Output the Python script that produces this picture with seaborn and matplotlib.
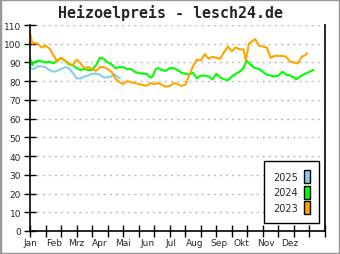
import matplotlib
matplotlib.use("Agg")
import matplotlib.pyplot as plt
import matplotlib.patches as mpatches
import seaborn as sns
import pandas as pd

# ---- data (day of year, price) ----
days_2023 = [0, 3, 5, 10, 15, 20, 25, 30, 35, 40, 45, 50, 55, 60, 65, 70, 75, 80, 85, 90,
             95, 100, 105, 110, 115, 120, 125, 130, 135, 140, 145, 150, 155, 160, 165, 170,
             175, 180, 185, 190, 195, 200, 205, 210, 215, 220, 225, 230, 235, 240, 245, 250,
             255, 260, 265, 270, 275, 278, 282, 285, 290, 295, 300, 305, 310, 315, 320, 325,
             330, 335, 340, 345, 350, 355, 357]
vals_2023 = [106, 100, 100.5, 100, 98, 99, 97.5, 94, 90.5, 92.5, 91, 89.5, 88.5, 91.5, 89.5,
             87, 87.5, 86.5, 85.5, 87.5, 87.5, 86.5, 85, 81.5, 79.5, 78.5, 80, 79.5, 79, 78.5,
             78, 77.5, 79, 78.5, 79, 78, 77, 77.5, 79, 78.5, 77.5, 78, 83, 88, 91.5, 91, 94.5,
             92, 93, 92.5, 92, 95.5, 98.5, 96, 98, 97, 97, 91, 100, 101, 102.5, 99, 98.5, 98,
             92.5, 93.5, 93.5, 93.5, 93, 90.5, 90, 89.5, 93, 94, 95]

days_2024 = [0, 3, 5, 10, 15, 20, 25, 30, 35, 40, 45, 50, 55, 60, 65, 70, 75, 80, 85, 90, 95,
             100, 105, 110, 115, 120, 125, 130, 135, 140, 145, 150, 155, 158, 162, 165, 170,
             175, 180, 185, 190, 195, 200, 205, 210, 215, 220, 225, 230, 235, 240, 245, 250,
             255, 260, 265, 270, 275, 279, 285, 290, 295, 300, 305, 310, 315, 320, 325, 330,
             335, 340, 343, 350, 355, 360, 365]
vals_2024 = [92, 88.5, 90, 91, 90.5, 90, 90.5, 89.5, 91, 92.5, 91, 89, 88.5, 87, 86, 86.5, 86,
             86, 88.5, 92.5, 92, 90, 89, 87, 87.5, 87.5, 86.5, 86.5, 85, 84.3, 84, 84, 82,
             82.5, 86.5, 87, 86, 85.5, 87, 87, 86, 84.5, 84, 83.5, 84.5, 81.5, 83, 83, 82.5,
             81, 84, 82, 81, 80.5, 82.5, 84, 85, 87, 91, 88.5, 87, 86.5, 85, 83.5, 83, 82.5,
             83, 85, 83.5, 83, 82, 81, 83, 84, 85, 86]

days_2025 = [0, 3, 7, 10, 15, 20, 25, 30, 35, 40, 45, 50, 55, 60, 65, 70, 75, 80, 85, 90, 95,
             100, 105, 108, 112, 116]
vals_2025 = [87.5, 86.5, 87, 88, 88, 87.5, 86, 85, 85.5, 86.5, 87.5, 87, 84.5, 81.5, 81.5,
             82.5, 83, 84, 84, 83.5, 82, 82, 82.5, 84, 82.5, 81.5]

years = ["2025", "2024", "2023"]
colors = ["#87CEEB", "#00FF00", "#FFA500"]
month_labels = ["Jan", "Feb", "Mrz", "Apr", "Mai", "Jun", "Jul", "Aug", "Sep", "Okt", "Nov", "Dez"]
month_starts = [0, 31, 59, 90, 120, 151, 181, 212, 243, 273, 304, 334]
title = "Heizoelpreis - lesch24.de"

df = pd.concat([
    pd.DataFrame({"day": days_2025, "price": vals_2025, "year": "2025"}),
    pd.DataFrame({"day": days_2024, "price": vals_2024, "year": "2024"}),
    pd.DataFrame({"day": days_2023, "price": vals_2023, "year": "2023"}),
])

sns.set_style("white")
plt.rcParams["font.family"] = ["DejaVu Sans"]

fig = plt.figure(figsize=(3.4, 2.55), dpi=100)
ax = fig.add_axes([30 / 340, 23 / 255, 295 / 340, 206 / 255])

sns.lineplot(data=df, x="day", y="price", hue="year", hue_order=years,
             palette=dict(zip(years, colors)), linewidth=1.5, legend=False, ax=ax,
             estimator=None, sort=False)

ax.set_xlim(0, 380)
ax.set_ylim(0, 110)
ax.set_xlabel("")
ax.set_ylabel("")

# grid
ax.set_yticks(range(0, 111, 10))
for v in range(10, 111, 10):
    ax.axhline(v, color="#BBBBBB", lw=1, dashes=(1.5, 2.9), zorder=0)

ax.xaxis.remove_overlapping_locs = False
ax.tick_params(axis="y", which="major", left=True, direction="inout", length=9, width=1,
               color="black", labelsize=6.5, pad=2)
ax.set_xticks(range(0, 381, 20))
ax.set_xticklabels([])
ax.tick_params(axis="x", which="major", bottom=True, direction="inout", length=9, width=1,
               color="black")
ax.set_xticks(month_starts, month_labels, minor=True)
ax.tick_params(axis="x", which="minor", bottom=True, length=0, labelsize=6.5, pad=5)

for s in ["left", "bottom", "right"]:
    ax.spines[s].set_color("black")
    ax.spines[s].set_linewidth(1.2)
ax.spines["top"].set_visible(False)

fig.text(170 / 340, 1 - 13 / 255, title, ha="center", va="center",
         family="DejaVu Sans Mono", fontweight="bold", fontsize=10.8)

handles = [mpatches.Patch(facecolor=c, edgecolor="black", linewidth=1) for c in colors]
leg = ax.legend(handles, years, loc="lower right", bbox_to_anchor=(0.98, 0.039),
                markerfirst=False, fancybox=False, framealpha=1, edgecolor="black",
                fontsize=7, handlelength=0.7, handleheight=1.7, labelspacing=0.25,
                handletextpad=0.6, borderpad=0.9, borderaxespad=0)
leg.get_frame().set_linewidth(1)

fig.patches.append(mpatches.Rectangle((0, 0), 1, 1, transform=fig.transFigure, fill=False,
                                      edgecolor="#999999", linewidth=2.5))

fig.savefig("out.png", dpi=100)
